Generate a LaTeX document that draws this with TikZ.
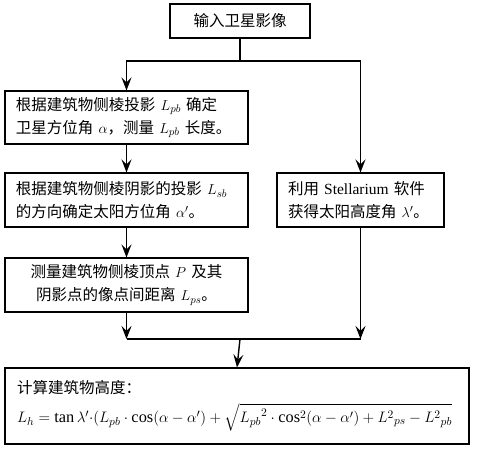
\documentclass[tikz,border=0pt]{standalone}
\usepackage{fontspec}
\usepackage{amsmath}
\usepackage{graphicx}
\setmainfont{Liberation Serif}
\newfontfamily\cjk{Noto Sans CJK SC}
\usetikzlibrary{arrows.meta}
\begin{document}
\begin{tikzpicture}[x=1pt,y=-1pt,
  box/.style={draw,line width=1.1pt,inner sep=0pt,font=\cjk\fontsize{15.5}{23}\selectfont},
  arr/.style={line width=1.4pt,-{Stealth[length=13pt,width=10pt,inset=5pt]}},
  ln/.style={line width=1.4pt}]
\useasboundingbox (0,0) rectangle (477,450);
\node[box,minimum width=140pt,minimum height=34pt] (top) at (240,21) {输入卫星影像};
\node[box,minimum width=243pt,minimum height=53pt,text width=221pt,align=left] (b1) at (126.5,117.5)
  {\mbox{根据建筑物侧棱投影 $L_{pb}$ 确定}\\\mbox{卫星方位角 $\alpha$，测量 $L_{pb}$ 长度。}};
\node[box,minimum width=243pt,minimum height=54pt,text width=221pt,align=left] (b2) at (126.5,200)
  {\mbox{根据建筑物侧棱阴影的投影 $L_{sb}$}\\\mbox{的方向确定太阳方位角 $\alpha'$。}};
\node[box,minimum width=243pt,minimum height=54pt,text width=221pt,align=center] (b3) at (126.5,285)
  {\mbox{测量建筑物侧棱顶点 $P$ 及其}\\\mbox{阴影点的像点间距离 $L_{ps}$。}};
\node[box,minimum width=167pt,minimum height=54pt,text width=145pt,align=left] (r) at (360.5,200)
  {\mbox{利用 {\rmfamily Stellarium} 软件}\\\mbox{获得太阳高度角 $\lambda'$。}};
\node[box,minimum width=464pt,minimum height=76pt,text width=440pt,align=left] (bot) at (237,406)
  {计算建筑物高度：\\[6pt]
   \resizebox{435pt}{!}{$L_h=\tan\lambda'{\cdot}(L_{pb}\cdot\cos(\alpha-\alpha')+\sqrt{{L_{pb}}^2\cdot\cos^2(\alpha-\alpha')+L^2{}_{ps}-L^2{}_{pb}}$}};
\coordinate (j1) at (240,61);
\coordinate (j2) at (240,339);
\draw[ln] (top.south) -- (j1);
\draw[arr] (j1) -| (b1.north);
\draw[arr] (j1) -| (r.north);
\draw[arr] (b1.south) -- (b2.north);
\draw[arr] (b2.south) -- (b3.north);
\draw[arr] (b3.south) -- (b3.south |- j2);
\draw[arr] (r.south) -- (r.south |- j2);
\draw[ln] (b3.south |- j2) -- (r.south |- j2);
\draw[arr] (j2) -- (bot.north);
\end{tikzpicture}
\end{document}
